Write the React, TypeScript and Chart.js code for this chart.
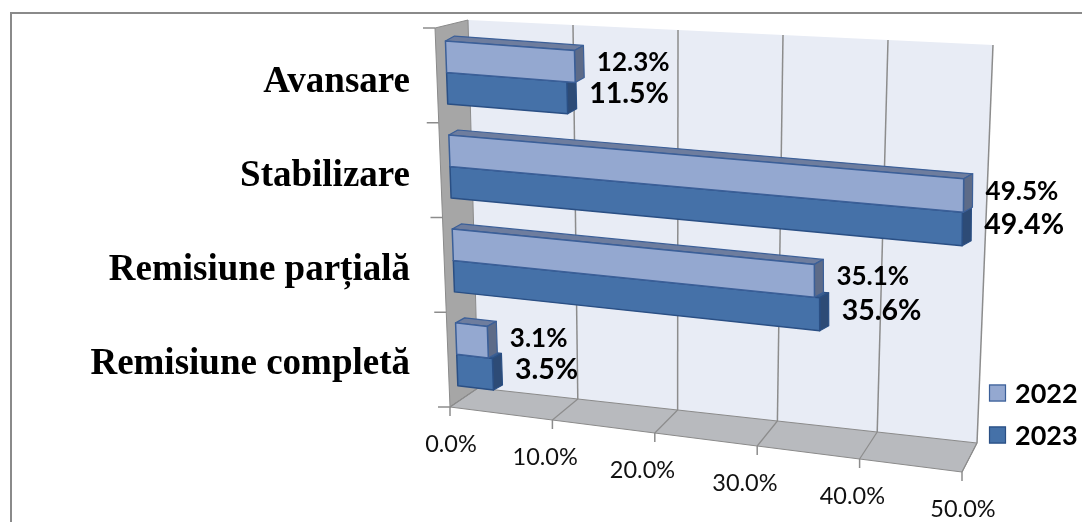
import React, { useEffect, useRef } from "react";
import { Chart, registerables } from "chart.js";

Chart.register(...registerables);

// ---------- data ----------
const categories = ["Avansare", "Stabilizare", "Remisiune parțială", "Remisiune completă"];
const seriesNames = ["2022", "2023"];
const values2022 = [12.3, 49.5, 35.1, 3.1];
const values2023 = [11.5, 49.4, 35.6, 3.5];
const xTicks = [0, 10, 20, 30, 40, 50];

// ---------- styles ----------
const style2022 = { face: "#94a8d0", top: "#6e7d9e", side: "#5d6b88", edge: "#3b5f98", labelSize: 26 };
const style2023 = { face: "#4571a8", top: "#3a5d8c", side: "#2d4b76", edge: "#2a4f84", labelSize: 28.5 };
const WALL = "#e8ecf5";
const SIDE_WALL = "#a6a6a6";
const FLOOR = "#b8babe";
const EDGE = "#8a8a8a";
const GRID = "#8c8c8c";

type Pt = [number, number];

function makeProj(ca: { left: number; right: number; top: number; bottom: number }) {
  const { left: L, right: R, top: T, bottom: B } = ca;
  // front (z=0) and back (z=1) planes of the 3D box, relative to the chart area
  const F = { tl: [L - 15, T], tr: [R - 5, T + 42], bl: [L, B + 2], br: [R - 3, B + 67] };
  const K = { tl: [L + 18, T - 8], tr: [R + 28, T + 17], bl: [L + 28, B - 17], br: [R + 12, B + 38] };
  const bil = (q: any, v: number, c: number): Pt => {
    const tx = q.tl[0] + (q.tr[0] - q.tl[0]) * v;
    const ty = q.tl[1] + (q.tr[1] - q.tl[1]) * v;
    const bx = q.bl[0] + (q.br[0] - q.bl[0]) * v;
    const by = q.bl[1] + (q.br[1] - q.bl[1]) * v;
    return [tx + (bx - tx) * c, ty + (by - ty) * c];
  };
  return (v: number, c: number, z: number): Pt => {
    const f = bil(F, v, c);
    const k = bil(K, v, c);
    return [f[0] + (k[0] - f[0]) * z, f[1] + (k[1] - f[1]) * z];
  };
}

function poly(ctx: CanvasRenderingContext2D, pts: Pt[], fill?: string, stroke?: string, lw = 1) {
  ctx.beginPath();
  ctx.moveTo(pts[0][0], pts[0][1]);
  for (let i = 1; i < pts.length; i++) ctx.lineTo(pts[i][0], pts[i][1]);
  ctx.closePath();
  if (fill) {
    ctx.fillStyle = fill;
    ctx.fill();
  }
  if (stroke) {
    ctx.strokeStyle = stroke;
    ctx.lineWidth = lw;
    ctx.lineJoin = "round";
    ctx.stroke();
  }
}

function line(ctx: CanvasRenderingContext2D, a: Pt, b: Pt, color: string, lw = 1) {
  ctx.beginPath();
  ctx.moveTo(a[0], a[1]);
  ctx.lineTo(b[0], b[1]);
  ctx.strokeStyle = color;
  ctx.lineWidth = lw;
  ctx.stroke();
}

const BAR_Z = 0.3;
const BAR_DEPTH: Pt = [9, -5];

function barGeometry(chart: any, di: number, j: number) {
  const ca = chart.chartArea;
  const xs = chart.scales.x;
  const x0 = xs.getPixelForValue(xTicks[0]);
  const x1 = xs.getPixelForValue(xTicks[xTicks.length - 1]);
  const el = chart.getDatasetMeta(di).data[j];
  const p = el.getProps(["x", "y", "base", "height"], true);
  const v0 = (p.base - x0) / (x1 - x0);
  const v1 = (p.x - x0) / (x1 - x0);
  const c0 = (p.y - p.height / 2 - ca.top) / (ca.bottom - ca.top);
  const c1 = (p.y + p.height / 2 - ca.top) / (ca.bottom - ca.top);
  return { v0, v1, c0, c1 };
}

const styles = [style2022, style2023];

const perspectivePlugin = {
  id: "perspective3d",
  beforeDatasetsDraw(chart: any) {
    const ctx: CanvasRenderingContext2D = chart.ctx;
    const ca = chart.chartArea;
    const P = makeProj(ca);
    const xs = chart.scales.x;
    const x0 = xs.getPixelForValue(xTicks[0]);
    const x1 = xs.getPixelForValue(xTicks[xTicks.length - 1]);
    const vOf = (val: number) => (xs.getPixelForValue(val) - x0) / (x1 - x0);

    ctx.save();
    // back wall
    poly(ctx, [P(0, 0, 1), P(1, 0, 1), P(1, 1, 1), P(0, 1, 1)], WALL);
    // side wall
    poly(ctx, [P(0, 0, 0), P(0, 0, 1), P(0, 1, 1), P(0, 1, 0)], SIDE_WALL, EDGE, 1);
    // floor
    poly(ctx, [P(0, 1, 0), P(1, 1, 0), P(1, 1, 1), P(0, 1, 1)], FLOOR, EDGE, 1);

    // grid lines on back wall and floor
    xTicks.forEach((t) => {
      const v = vOf(t);
      if (v > 0) line(ctx, P(v, 0, 1), P(v, 1, 1), GRID, 1.5);
      line(ctx, P(v, 1, 1), P(v, 1, 0), GRID, 1.2);
      const f = P(v, 1, 0);
      line(ctx, f, [f[0], f[1] + 9], GRID, 1.5);
    });
    // category tick marks at the front-left edge
    const nCat = categories.length;
    for (let i = 0; i <= nCat; i++) {
      const f = P(0, i / nCat, 0);
      line(ctx, [f[0] - 12, f[1]], f, GRID, 1.5);
    }

    // bars (3D boxes)
    for (let j = 0; j < categories.length; j++) {
      for (let di = chart.data.datasets.length - 1; di >= 0; di--) {
        const s = styles[di];
        const { v0, v1, c0, c1 } = barGeometry(chart, di, j);
        const f00 = P(v0, c0, BAR_Z);
        const f10 = P(v1, c0, BAR_Z);
        const f11 = P(v1, c1, BAR_Z);
        const f01 = P(v0, c1, BAR_Z);
        const d = BAR_DEPTH;
        const add = (p: Pt): Pt => [p[0] + d[0], p[1] + d[1]];
        poly(ctx, [f00, f10, add(f10), add(f00)], s.top, s.edge, 1.2);
        poly(ctx, [f10, add(f10), add(f11), f11], s.side, s.edge, 1.2);
        poly(ctx, [f00, f10, f11, f01], chart.data.datasets[di].backgroundColor, s.edge, 1.5);
      }
    }
    ctx.restore();
    return false;
  },
  afterDraw(chart: any) {
    const ctx: CanvasRenderingContext2D = chart.ctx;
    const ca = chart.chartArea;
    const P = makeProj(ca);
    const xs = chart.scales.x;
    const x0 = xs.getPixelForValue(xTicks[0]);
    const x1 = xs.getPixelForValue(xTicks[xTicks.length - 1]);
    ctx.save();

    // x tick labels along the slanted front edge
    ctx.font = "23.5px Lato";
    ctx.fillStyle = "#111";
    ctx.textAlign = "center";
    ctx.textBaseline = "middle";
    xTicks.forEach((t) => {
      const v = (xs.getPixelForValue(t) - x0) / (x1 - x0);
      const f = P(v, 1, 0);
      ctx.fillText(t.toFixed(1) + "%", f[0] + 1 - 14 * Math.sin(Math.PI * v), f[1] + 37);
    });

    // data labels
    ctx.fillStyle = "#000";
    ctx.textAlign = "left";
    chart.data.datasets.forEach((ds: any, di: number) => {
      ctx.font = `bold ${styles[di].labelSize}px Lato`;
      ds.data.forEach((val: number, j: number) => {
        const { v1, c0, c1 } = barGeometry(chart, di, j);
        const p = P(v1, (c0 + c1) / 2, BAR_Z);
        ctx.fillText(val.toFixed(1) + "%", p[0] + 22, p[1] - 4);
      });
    });

    // legend
    const lx = ca.right + 24;
    const ly = [ca.bottom - 12, ca.bottom + 30];
    ctx.font = "bold 27px Lato";
    ctx.textBaseline = "middle";
    chart.data.datasets.forEach((ds: any, di: number) => {
      const y = ly[di];
      ctx.fillStyle = ds.backgroundColor;
      ctx.fillRect(lx, y - 8.5, 17, 17);
      ctx.strokeStyle = ds.borderColor;
      ctx.lineWidth = 1.2;
      ctx.strokeRect(lx + 0.5, y - 8, 16, 16);
      ctx.fillStyle = "#000";
      ctx.fillText(ds.label, lx + 26, y + 1);
    });

    // outer frame
    ctx.strokeStyle = "#8a8a8a";
    ctx.lineWidth = 2;
    ctx.beginPath();
    ctx.moveTo(11, chart.height);
    ctx.lineTo(11, 13);
    ctx.lineTo(chart.width, 13);
    ctx.stroke();

    ctx.restore();
  },
};

export default function App() {
  const ref = useRef<HTMLCanvasElement | null>(null);

  useEffect(() => {
    if (!ref.current) return;
    const chart = new Chart(ref.current, {
      type: "bar",
      data: {
        labels: categories,
        datasets: [
          {
            label: seriesNames[0],
            data: values2022,
            backgroundColor: style2022.face,
            borderColor: style2022.edge,
          },
          {
            label: seriesNames[1],
            data: values2023,
            backgroundColor: style2023.face,
            borderColor: style2023.edge,
          },
        ],
      },
      options: {
        indexAxis: "y",
        responsive: false,
        devicePixelRatio: 1,
        animation: false,
        events: [],
        layout: { padding: { top: 28, right: 117, left: 0, bottom: 0 } },
        datasets: { bar: { categoryPercentage: 0.67, barPercentage: 1.0 } },
        scales: {
          x: {
            min: xTicks[0],
            max: xTicks[xTicks.length - 1],
            ticks: { display: false, stepSize: 10 },
            grid: { display: false, drawTicks: false },
            border: { display: false },
            afterFit: (s: any) => {
              s.height = 117;
              s.paddingLeft = 0;
              s.paddingRight = 0;
            },
          },
          y: {
            grid: { display: false, drawTicks: false },
            border: { display: false },
            ticks: {
              color: "#000",
              padding: 40,
              labelOffset: 7,
              font: { family: "'Liberation Serif', 'Times New Roman', serif", size: 37, weight: "bold" },
            },
            afterFit: (s: any) => {
              s.width = 450;
              s.paddingTop = 0;
              s.paddingBottom = 0;
            },
          },
        },
        plugins: {
          legend: { display: false },
          tooltip: { enabled: false },
        },
      } as any,
      plugins: [perspectivePlugin as any],
    });
    return () => chart.destroy();
  }, []);

  return (
    <div style={{ position: "fixed", left: 0, top: 0, width: 1082, height: 522, background: "#fff" }}>
      <canvas ref={ref} width={1082} height={522} style={{ display: "block" }} />
    </div>
  );
}
